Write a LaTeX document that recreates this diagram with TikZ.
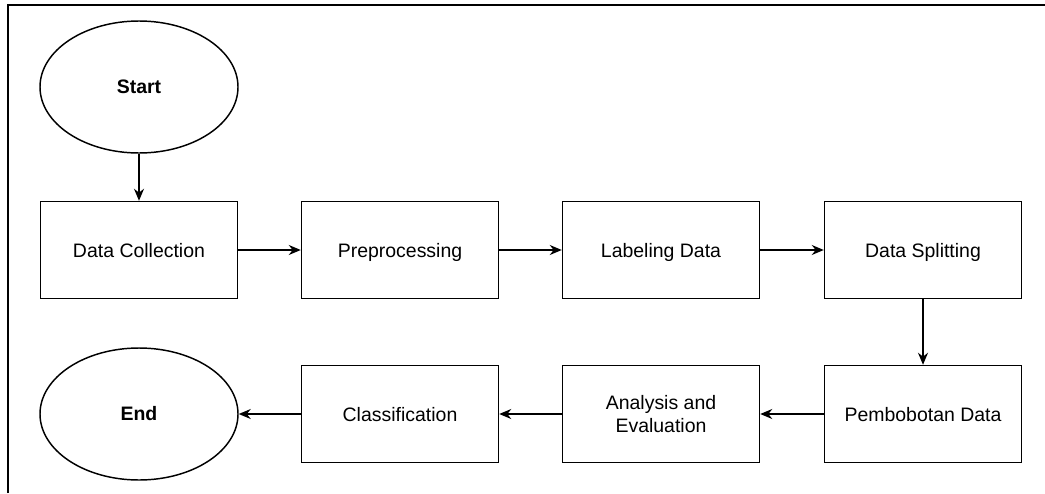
\documentclass[tikz,border=0pt]{standalone}
\usepackage{fontspec}
\setmainfont{Liberation Sans}
\usetikzlibrary{shapes.geometric, arrows.meta}

\begin{document}
\begin{tikzpicture}[x=0.75pt, y=-0.75pt, line width=1.1pt, >={Stealth[length=9pt, width=7.5pt]}]
    \tikzset{box/.style={draw, rectangle, minimum width=147.75pt, minimum height=72.75pt, inner sep=2pt, text height=2.4ex, text depth=.4ex, align=center, font=\fontsize{14.6}{17.5}\selectfont}};
    \tikzset{term/.style={draw, ellipse, minimum width=148.5pt, minimum height=99pt, inner sep=0pt, font=\fontsize{14.6}{17.5}\selectfont\bfseries}};

    \useasboundingbox (0, 0) rectangle (1045, 493);

    % Frame
    \draw[line width=1.6pt] (8, 493) -- (8, 5) -- (1045, 5);

    % Start
    \node[term] (start) at (139, 87) {Start};

    % Row 1
    \node[box] (dc) at (139, 250) {Data Collection};
    \node[box] (pre) at (400, 250) {Preprocessing};
    \node[box] (lab) at (661, 250) {Labeling Data};
    \node[box] (split) at (923, 250) {Data Splitting};

    % Row 2
    \node[box] (bobot) at (923, 414) {Pembobotan Data};
    \node[box, text height={}, text depth={}] (anl) at (661, 414) {Analysis and\\Evaluation};
    \node[box] (cls) at (400, 414) {Classification};

    % End
    \node[term] (stop) at (139, 414) {End};

    % Edges
    \foreach \a/\b in {start/dc, dc/pre, pre/lab, lab/split, split/bobot, bobot/anl, anl/cls, cls/stop} { \draw[->] (\a) -- (\b); };
  \end{tikzpicture}
\end{document}
